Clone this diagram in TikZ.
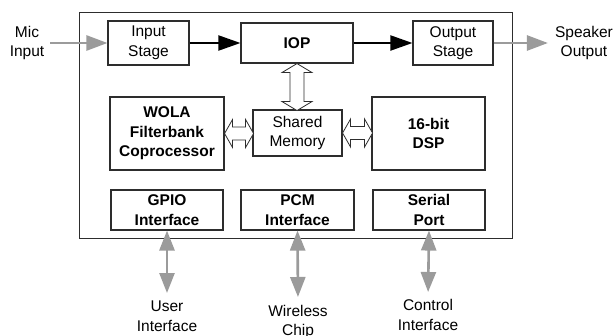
\documentclass[tikz,border=0pt]{standalone}
\usepackage{fontspec}
\setmainfont{Liberation Sans}
\usetikzlibrary{arrows.meta}
\definecolor{arrgray}{RGB}{155,155,155}
\definecolor{boxline}{RGB}{45,45,45}
\begin{document}
\begin{tikzpicture}[x=1pt,y=-1pt,
  every node/.style={font=\fontsize{15.5}{19.5}\selectfont, align=center},
  blk/.style={draw=boxline, line width=1.1pt, inner sep=0pt},
  bblk/.style={blk, font=\fontsize{15.5}{19.5}\selectfont\bfseries},
  flow/.style={line width=2pt, -{Triangle[length=22pt,width=15pt]}},
  ext/.style={draw=arrgray, line width=2.6pt, -{Triangle[length=21pt,width=15pt]}},
  ext2/.style={draw=arrgray, line width=2.6pt, {Triangle[length=20pt,width=15pt]}-{Triangle[length=20pt,width=15pt]}},
  hollow/.style={draw=boxline, line width=0.8pt, fill=white, line join=miter},
  lbl/.style={inner sep=0pt}
]
\useasboundingbox (0,0) rectangle (613,335);
% outer chip
\node[draw=boxline, line width=1pt, minimum width=433pt, minimum height=226pt, inner sep=0pt] (chip) at (295.5,125) {};
% blocks
\node[blk, minimum width=81pt, minimum height=44pt] (inp) at (148.5,43) {Input\\Stage};
\node[bblk, minimum width=112pt, minimum height=40pt] (iop) at (297,43) {IOP};
\node[blk, minimum width=80pt, minimum height=44pt] (out) at (453,43) {Output\\Stage};
\node[bblk, minimum width=114pt, minimum height=73pt] (wola) at (167,133.5) {WOLA\\Filterbank\\Coprocessor};
\node[blk, minimum width=89pt, minimum height=46pt] (mem) at (297.5,133) {Shared\\Memory};
\node[bblk, minimum width=113pt, minimum height=73pt] (dsp) at (428.5,133.5) {16-bit\\DSP};
\node[bblk, minimum width=112pt, minimum height=40pt] (gpio) at (167,210) {GPIO\\Interface};
\node[bblk, minimum width=113pt, minimum height=40pt] (pcm) at (297.5,210) {PCM\\Interface};
\node[bblk, minimum width=112pt, minimum height=40pt] (ser) at (429,210) {Serial\\Port};
% external labels
\node[lbl] (mic) at (27,43) {Mic\\Input};
\node[lbl] (spk) at (584,43) {Speaker\\Output};
\node[lbl, anchor=north] (usr) at (167,301) {User\\Interface};
\node[lbl, anchor=north] (wls) at (298,305) {Wireless\\Chip};
\node[lbl, anchor=north] (ctl) at (428,299.5) {Control\\Interface};
% data flow
\draw[flow] (inp) -- (iop);
\draw[flow] (iop) -- (out);
\draw[ext, shorten <=6pt] (mic.east) -- (inp.west);
\draw[ext, shorten >=7pt] (out.east) -- (spk.west);
\draw[ext2, shorten >=8pt] (gpio.south) -- (usr.north);
\draw[ext2, shorten >=8pt] (pcm.south) -- (wls.north);
\draw[ext2, shorten >=7.5pt] (ser.south) -- (ctl.north);
% hollow bus arrows
\draw[hollow] (iop.south) -- ++(15,9) -- ++(-8,0) -- ++(0,29) -- ++(8,0) -- ++(-15,9)
  -- ++(-15,-9) -- ++(8,0) -- ++(0,-29) -- ++(-8,0) -- cycle;
\draw[hollow] (wola.east) -- ++(8,-14) -- ++(0,7.5) -- ++(13,0) -- ++(0,-7.5) -- ++(8,14)
  -- ++(-8,14) -- ++(0,-7.5) -- ++(-13,0) -- ++(0,7.5) -- cycle;
\draw[hollow] (mem.east) -- ++(8,-14) -- ++(0,7.5) -- ++(14,0) -- ++(0,-7.5) -- ++(8,14)
  -- ++(-8,14) -- ++(0,-7.5) -- ++(-14,0) -- ++(0,7.5) -- cycle;
\end{tikzpicture}
\end{document}
